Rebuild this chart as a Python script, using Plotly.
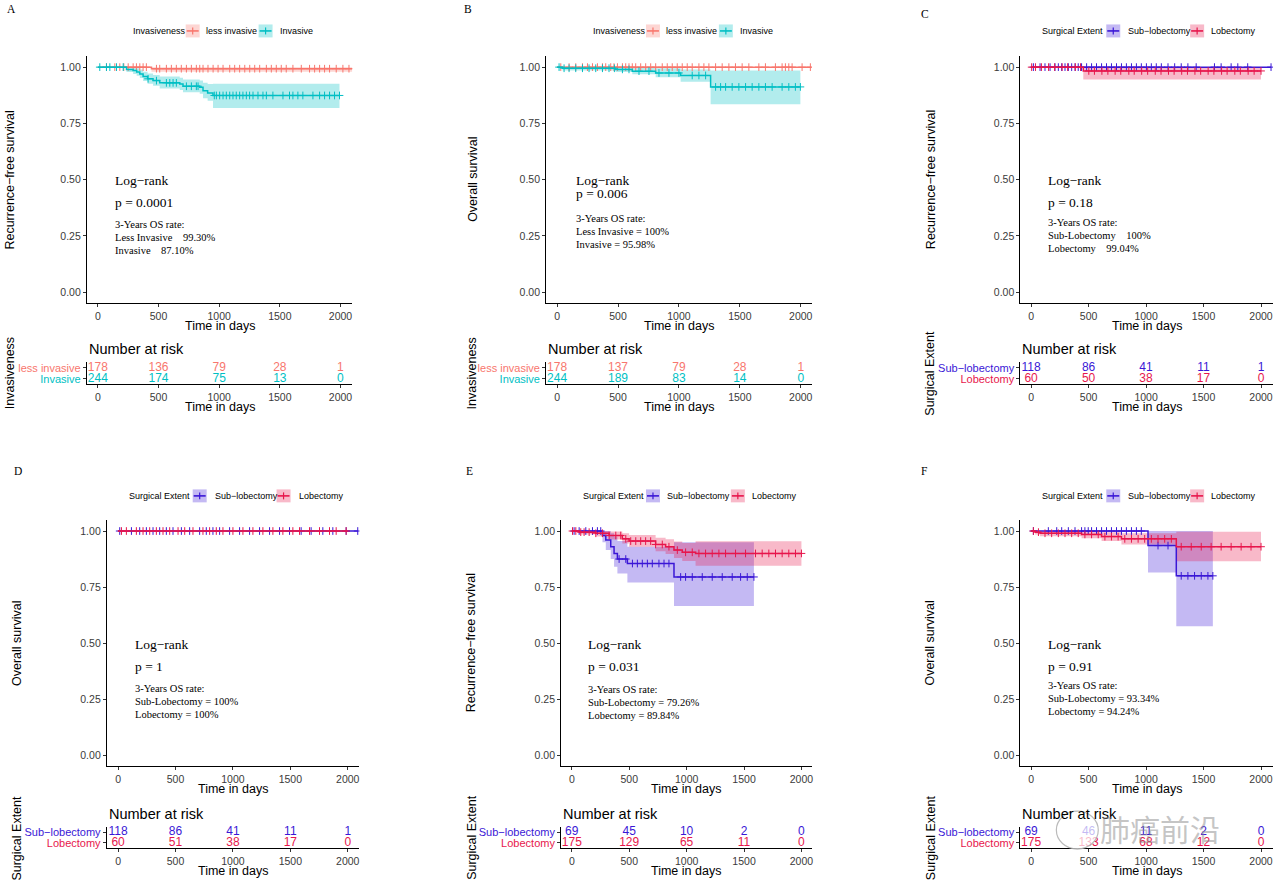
import plotly.graph_objects as go

W, H = 1280, 885

# ---------------- data ----------------
TICKS_X = [0, 500, 1000, 1500, 2000]
Y_TICKS = [0, 0.25, 0.5, 0.75, 1.0]
Y_TICK_LABELS = ["0.00", "0.25", "0.50", "0.75", "1.00"]

C_LESS = "#F8766D"
C_INV = "#00BFC4"
C_SUB = "#3A17D6"
C_LOB = "#E7164C"

# Panel A : recurrence-free survival by invasiveness
A_less_t = [0, 442, 2096]
A_less_s = [1.0, 0.993, 0.993]
A_less_lo = [1.0, 0.980, 0.980]
A_less_hi = [1.0, 1.0, 1.0]
A_less_c = [71, 140, 181, 214, 250, 291, 318, 346, 373, 400, 483, 510, 565, 606, 647, 688, 730, 771,
            812, 840, 867, 908, 950, 991, 1032, 1087, 1128, 1169, 1211, 1252, 1293, 1334, 1389, 1430,
            1471, 1512, 1553, 1608, 1677, 1745, 1787, 1828, 1869, 1910, 1965, 2020, 2070]
A_inv_t = [0, 236, 291, 320, 346, 373, 410, 455, 510, 675, 702, 840, 867, 905, 949, 1992]
A_inv_s = [1.0, 0.99, 0.985, 0.978, 0.97, 0.958, 0.948, 0.94, 0.93, 0.925, 0.915, 0.91, 0.895, 0.885, 0.874, 0.874]
A_inv_lo = [1.0, 0.978, 0.970, 0.962, 0.952, 0.938, 0.926, 0.917, 0.905, 0.898, 0.888, 0.882, 0.862, 0.850, 0.818, 0.818]
A_inv_hi = [1.0, 1.0, 1.0, 0.995, 0.99, 0.98, 0.972, 0.965, 0.958, 0.953, 0.945, 0.94, 0.93, 0.925, 0.926, 0.926]
A_inv_c = [16, 71, 99, 154, 209, 414, 483, 565, 593, 620, 647, 730, 771, 812, 826, 960, 977, 1004, 1032,
           1059, 1087, 1114, 1141, 1169, 1196, 1224, 1251, 1279, 1320, 1361, 1389, 1443, 1526, 1580, 1608,
           1649, 1690, 1773, 1828, 1869, 1910, 1951, 1992]
A_risk_less = [178, 136, 79, 28, 1]
A_risk_inv = [244, 174, 75, 13, 0]
A_text = ["Log\u2212rank", "p = 0.0001", "3-Years OS rate:",
          "Less Invasive\u00a0\u00a0\u00a0\u00a099.30%", "Invasive\u00a0\u00a0\u00a0\u00a087.10%"]

# Panel B : overall survival by invasiveness
B_less_t = [0, 2093]
B_less_s = [1.0, 1.0]
B_less_lo = [1.0, 1.0]
B_less_hi = [1.0, 1.0]
B_less_c = [30, 98, 153, 208, 249, 290, 331, 372, 399, 440, 467, 495, 536, 563, 590, 617, 645, 686, 727,
            768, 809, 863, 904, 945, 986, 1027, 1068, 1109, 1164, 1205, 1246, 1301, 1355, 1410, 1464,
            1519, 1574, 1656, 1710, 1792, 1847, 1874, 1902, 1929, 2011, 2079]
B_inv_t = [0, 44, 480, 617, 809, 1014, 1260, 1997]
B_inv_s = [1.0, 0.995, 0.99, 0.982, 0.974, 0.963, 0.912, 0.912]
B_inv_lo = [1.0, 0.985, 0.978, 0.968, 0.955, 0.935, 0.835, 0.835]
B_inv_hi = [1.0, 1.0, 1.0, 0.998, 0.995, 0.99, 0.985, 0.985]
B_inv_c = [16, 57, 98, 153, 208, 262, 317, 372, 426, 470, 536, 590, 672, 754, 836, 918, 1000, 1109, 1164,
           1219, 1301, 1342, 1383, 1437, 1492, 1547, 1601, 1656, 1710, 1765, 1847, 1902, 1956, 1997]
B_risk_less = [178, 137, 79, 28, 1]
B_risk_inv = [244, 189, 83, 14, 0]
B_text = ["Log\u2212rank", "p = 0.006", "3-Years OS rate:",
          "Less Invasive = 100%", "Invasive = 95.98%"]

# Panel C : recurrence-free survival by surgical extent
C_sub_t = [0, 2087]
C_sub_s = [1.0, 1.0]
C_sub_lo = [1.0, 1.0]
C_sub_hi = [1.0, 1.0]
C_sub_c = [20, 78, 121, 165, 208, 237, 266, 295, 324, 353, 382, 410, 439, 483, 526, 569, 613, 656, 699,
           743, 786, 829, 873, 916, 959, 1003, 1046, 1089, 1133, 1191, 1249, 1306, 1364, 1436, 1595,
           1653, 1740, 1798, 1884, 2087]
C_lob_t = [0, 454, 2000]
C_lob_s = [1.0, 0.983, 0.983]
C_lob_lo = [1.0, 0.945, 0.945]
C_lob_hi = [1.0, 1.0, 1.0]
C_lob_c = [5, 38, 90, 152, 205, 270, 318, 385, 430, 502, 551, 616, 668, 731, 780, 850, 897, 962, 1014,
           1080, 1130, 1195, 1244, 1310, 1360, 1425, 1475, 1540, 1590, 1657, 1705, 1772, 1820, 1888,
           1940, 2000]
C_risk_sub = [118, 86, 41, 11, 1]
C_risk_lob = [60, 50, 38, 17, 0]
C_text = ["Log\u2212rank", "p = 0.18", "3-Years OS rate:",
          "Sub-Lobectomy\u00a0\u00a0\u00a0\u00a0100%", "Lobectomy\u00a0\u00a0\u00a0\u00a099.04%"]

# Panel D : overall survival by surgical extent
D_sub_t = [0, 2087]
D_sub_s = [1.0, 1.0]
D_sub_lo = [1.0, 1.0]
D_sub_hi = [1.0, 1.0]
D_sub_c = [14, 116, 188, 246, 304, 362, 420, 478, 551, 623, 710, 768, 826, 884, 971, 1058, 1145, 1232,
           1319, 1406, 1493, 1594, 1681, 1783, 1870, 1986, 2087]
D_lob_t = [0, 2000]
D_lob_s = [1.0, 1.0]
D_lob_lo = [1.0, 1.0]
D_lob_hi = [1.0, 1.0]
D_lob_c = [29, 72, 159, 217, 275, 333, 391, 449, 522, 580, 652, 739, 797, 855, 913, 1000, 1087, 1174,
           1261, 1348, 1435, 1522, 1580, 1667, 1754, 1841, 1899, 1986]
D_risk_sub = [118, 86, 41, 11, 1]
D_risk_lob = [60, 51, 38, 17, 0]
D_text = ["Log\u2212rank", "p = 1", "3-Years OS rate:",
          "Sub-Lobectomy = 100%", "Lobectomy = 100%"]

# Panel E : recurrence-free survival by surgical extent (second cohort)
E_sub_t = [0, 267, 296, 339, 368, 397, 484, 890, 1586]
E_sub_s = [1.0, 0.98, 0.96, 0.93, 0.90, 0.875, 0.855, 0.795, 0.795]
E_sub_lo = [1.0, 0.95, 0.915, 0.875, 0.84, 0.81, 0.77, 0.665, 0.665]
E_sub_hi = [1.0, 1.0, 1.0, 0.99, 0.975, 0.955, 0.93, 0.95, 0.95]
E_sub_c = [20, 64, 122, 180, 223, 252, 412, 470, 528, 571, 614, 658, 701, 759, 803, 846, 948, 991, 1049,
           1136, 1223, 1310, 1397, 1470, 1528, 1586]
E_lob_t = [0, 64, 209, 325, 440, 499, 730, 817, 890, 962, 1078, 2000]
E_lob_s = [1.0, 0.995, 0.99, 0.98, 0.965, 0.955, 0.94, 0.93, 0.915, 0.905, 0.90, 0.90]
E_lob_lo = [1.0, 0.985, 0.975, 0.962, 0.944, 0.93, 0.91, 0.897, 0.88, 0.866, 0.845, 0.845]
E_lob_hi = [1.0, 1.0, 1.0, 0.998, 0.99, 0.982, 0.97, 0.963, 0.953, 0.946, 0.954, 0.954]
E_lob_c = [6, 35, 78, 107, 151, 209, 267, 325, 383, 426, 470, 513, 557, 600, 643, 687, 730, 788, 846,
           919, 991, 1049, 1107, 1165, 1223, 1281, 1339, 1426, 1513, 1600, 1658, 1716, 1774, 1832,
           1890, 1948, 2000]
E_risk_sub = [69, 45, 10, 2, 0]
E_risk_lob = [175, 129, 65, 11, 0]
E_text = ["Log\u2212rank", "p = 0.031", "3-Years OS rate:",
          "Sub-Lobectomy = 79.26%", "Lobectomy = 89.84%"]

# Panel F : overall survival by surgical extent (second cohort)
F_sub_t = [0, 1017, 1263, 1581]
F_sub_s = [1.0, 0.935, 0.80, 0.80]
F_sub_lo = [1.0, 0.815, 0.575, 0.575]
F_sub_hi = [1.0, 1.0, 1.0, 1.0]
F_sub_c = [20, 150, 223, 266, 324, 382, 439, 468, 497, 526, 569, 613, 656, 699, 743, 786, 829, 873, 916,
           959, 1104, 1191, 1306, 1364, 1422, 1480, 1538, 1581]
F_lob_t = [0, 35, 78, 439, 613, 786, 1263, 2000]
F_lob_s = [1.0, 0.995, 0.99, 0.985, 0.975, 0.965, 0.93, 0.93]
F_lob_lo = [1.0, 0.985, 0.977, 0.968, 0.955, 0.94, 0.865, 0.865]
F_lob_hi = [1.0, 1.0, 1.0, 1.0, 0.995, 0.99, 0.997, 0.997]
F_lob_c = [20, 64, 121, 179, 237, 295, 353, 410, 468, 526, 584, 642, 699, 757, 815, 873, 931, 988, 1046,
           1104, 1162, 1220, 1306, 1393, 1480, 1566, 1653, 1740, 1827, 1913, 2000]
F_risk_sub = [69, 46, 11, 2, 0]
F_risk_lob = [175, 133, 68, 12, 0]
F_text = ["Log\u2212rank", "p = 0.91", "3-Years OS rate:",
          "Sub-Lobectomy = 93.34%", "Lobectomy = 94.24%"]

INV_GROUPS = ["less invasive", "Invasive"]
SUR_GROUPS = ["Sub\u2212lobectomy", "Lobectomy"]

# ---------------- helpers ----------------
SANS = "Liberation Sans, Arial, sans-serif"
SERIF = "Liberation Serif, Times New Roman, serif"


def PX(x):
    return x / W


def PY(y):
    return 1 - y / H


def rgba(hexc, a):
    h = hexc.lstrip('#')
    return "rgba(%d,%d,%d,%s)" % (int(h[0:2], 16), int(h[2:4], 16), int(h[4:6], 16), a)


def step_val(ts, ss, t):
    v = ss[0]
    for ti, si in zip(ts, ss):
        if ti <= t:
            v = si
        else:
            break
    return v


panels = [
    dict(label="A", lab_xy=(5, 8), ytitle="Recurrence\u2212free survival", rtitle="Invasiveness",
         groups=INV_GROUPS, colors=[C_LESS, C_INV],
         curves=[(A_less_t, A_less_s, A_less_lo, A_less_hi, A_less_c), (A_inv_t, A_inv_s, A_inv_lo, A_inv_hi, A_inv_c)],
         risk=[A_risk_less, A_risk_inv], text=A_text,
         left=87, right=353, p0=98, p2000=341, top=55, bottom=303, rtop=362, rbot=384,
         ytx=10, text_x=113, text_y=[180, 202, 224, 237, 250],
         leg=(30, 131, 186, 204, 259, 278)),
    dict(label="B", lab_xy=(463, 8), ytitle="Overall survival", rtitle="Invasiveness",
         groups=INV_GROUPS, colors=[C_LESS, C_INV],
         curves=[(B_less_t, B_less_s, B_less_lo, B_less_hi, B_less_c), (B_inv_t, B_inv_s, B_inv_lo, B_inv_hi, B_inv_c)],
         risk=[B_risk_less, B_risk_inv], text=B_text,
         left=547, right=813, p0=558, p2000=802, top=55, bottom=303, rtop=362, rbot=384,
         ytx=473, text_x=575, text_y=[180, 193, 218, 231, 244],
         leg=(30, 592, 647, 665, 720, 739)),
    dict(label="C", lab_xy=(920, 13), ytitle="Recurrence\u2212free survival", rtitle="Surgical Extent",
         groups=SUR_GROUPS, colors=[C_SUB, C_LOB],
         curves=[(C_sub_t, C_sub_s, C_sub_lo, C_sub_hi, C_sub_c), (C_lob_t, C_lob_s, C_lob_lo, C_lob_hi, C_lob_c)],
         risk=[C_risk_sub, C_risk_lob], text=C_text,
         left=1022, right=1275, p0=1032.7, p2000=1263, top=55, bottom=303, rtop=362, rbot=384,
         ytx=932, text_x=1048, text_y=[180, 202, 222, 235, 248],
         leg=(30, 1042, 1108, 1128, 1192, 1211)),
    dict(label="D", lab_xy=(12, 471), ytitle="Overall survival", rtitle="Surgical Extent",
         groups=SUR_GROUPS, colors=[C_SUB, C_LOB],
         curves=[(D_sub_t, D_sub_s, D_sub_lo, D_sub_hi, D_sub_c), (D_lob_t, D_lob_s, D_lob_lo, D_lob_hi, D_lob_c)],
         risk=[D_risk_sub, D_risk_lob], text=D_text,
         left=107, right=360, p0=118.3, p2000=348.3, top=520, bottom=767, rtop=828, rbot=849,
         ytx=17, text_x=133, text_y=[645, 667, 689, 702, 715],
         leg=(496, 127, 193, 213, 277, 297)),
    dict(label="E", lab_xy=(465, 471), ytitle="Recurrence\u2212free survival", rtitle="Surgical Extent",
         groups=SUR_GROUPS, colors=[C_SUB, C_LOB],
         curves=[(E_sub_t, E_sub_s, E_sub_lo, E_sub_hi, E_sub_c), (E_lob_t, E_lob_s, E_lob_lo, E_lob_hi, E_lob_c)],
         risk=[E_risk_sub, E_risk_lob], text=E_text,
         left=562, right=813, p0=572.7, p2000=802.7, top=520, bottom=767, rtop=828, rbot=849,
         ytx=472, text_x=587, text_y=[645, 667, 690, 703, 716],
         leg=(496, 582, 647, 666, 732, 751)),
    dict(label="F", lab_xy=(920, 471), ytitle="Overall survival", rtitle="Surgical Extent",
         groups=SUR_GROUPS, colors=[C_SUB, C_LOB],
         curves=[(F_sub_t, F_sub_s, F_sub_lo, F_sub_hi, F_sub_c), (F_lob_t, F_lob_s, F_lob_lo, F_lob_hi, F_lob_c)],
         risk=[F_risk_sub, F_risk_lob], text=F_text,
         left=1022, right=1275, p0=1032.7, p2000=1263, top=520, bottom=767, rtop=828, rbot=849,
         ytx=932, text_x=1048, text_y=[645, 667, 686, 699, 712],
         leg=(496, 1042, 1108, 1128, 1192, 1211)),
]

fig = go.Figure()
annotations = []
shapes = []
layout_axes = {}

TICKFONT = dict(family=SANS, size=10.5, color="#3a3a3a")


def axname(n):
    return ("xaxis" if n == 1 else "xaxis%d" % n), ("yaxis" if n == 1 else "yaxis%d" % n)


def axref(n):
    return ("x" if n == 1 else "x%d" % n), ("y" if n == 1 else "y%d" % n)


for i, p in enumerate(panels):
    nk, nr = 2 * i + 1, 2 * i + 2
    xk, yk = axref(nk)
    xr, yr = axref(nr)
    s = (p["p2000"] - p["p0"]) / 2000.0
    xrange_ = [(p["left"] - p["p0"]) / s, (p["right"] - p["p0"]) / s]
    xdom = [PX(p["left"]), PX(p["right"])]

    common_x = dict(range=xrange_, domain=xdom, showline=True, linecolor="black", linewidth=1,
                    ticks="outside", ticklen=3, tickcolor="#333", tickvals=TICKS_X,
                    tickfont=TICKFONT, showgrid=False, zeroline=False, fixedrange=True)
    kxn, kyn = axname(nk)
    rxn, ryn = axname(nr)
    layout_axes[kxn] = dict(common_x, anchor=yk)
    layout_axes[kyn] = dict(range=[-0.05, 1.05], domain=[PY(p["bottom"]), PY(p["top"])], anchor=xk,
                            showline=True, linecolor="black", linewidth=1, ticks="outside", ticklen=3,
                            tickcolor="#333", tickvals=Y_TICKS, ticktext=Y_TICK_LABELS, tickfont=TICKFONT,
                            showgrid=False, zeroline=False, fixedrange=True)
    layout_axes[rxn] = dict(common_x, anchor=yr)
    rlabels = ["<span style='color:%s'>%s</span>" % (p["colors"][1], p["groups"][1]),
               "<span style='color:%s'>%s</span>" % (p["colors"][0], p["groups"][0])]
    layout_axes[ryn] = dict(range=[-0.5, 1.5], domain=[PY(p["rbot"]), PY(p["rtop"])], anchor=xr,
                            showline=True, linecolor="black", linewidth=1, ticks="outside", ticklen=3,
                            tickcolor="#333", tickvals=[0, 1], ticktext=rlabels,
                            tickfont=dict(family=SANS, size=11), showgrid=False, zeroline=False,
                            fixedrange=True)

    # confidence bands
    for (ts, ss, lo, hi, cs), col in zip(p["curves"], p["colors"]):
        fig.add_trace(go.Scatter(x=ts, y=lo, xaxis=xk, yaxis=yk, mode="lines", line=dict(width=0, shape="hv"),
                                 hoverinfo="skip", showlegend=False))
        fig.add_trace(go.Scatter(x=ts, y=hi, xaxis=xk, yaxis=yk, mode="lines", line=dict(width=0, shape="hv"),
                                 fill="tonexty", fillcolor=rgba(col, 0.3), hoverinfo="skip", showlegend=False))
    # curves and censor marks
    for (ts, ss, lo, hi, cs), col in zip(p["curves"], p["colors"]):
        fig.add_trace(go.Scatter(x=ts, y=ss, xaxis=xk, yaxis=yk, mode="lines",
                                 line=dict(color=col, width=1.5, shape="hv"), showlegend=False))
        fig.add_trace(go.Scatter(x=cs, y=[step_val(ts, ss, c) for c in cs], xaxis=xk, yaxis=yk, mode="markers",
                                 marker=dict(symbol="cross-thin", size=5.5, line=dict(color=col, width=1)),
                                 showlegend=False))
    # risk table numbers
    for row, (vals, col) in enumerate(zip(p["risk"], p["colors"])):
        fig.add_trace(go.Scatter(x=TICKS_X, y=[1 - row] * len(vals), xaxis=xr, yaxis=yr, mode="text",
                                 text=[str(v) for v in vals], textfont=dict(family=SANS, size=12, color=col),
                                 textposition="middle center", cliponaxis=False, showlegend=False))

    cx = (p["left"] + p["right"]) / 2.0
    # axis titles
    annotations.append(dict(x=PX(cx), y=PY(p["bottom"] + 23), xref="paper", yref="paper", text="Time in days",
                            showarrow=False, font=dict(family=SANS, size=12.5, color="black"),
                            xanchor="center", yanchor="middle"))
    annotations.append(dict(x=PX(cx), y=PY(p["rbot"] + 23), xref="paper", yref="paper", text="Time in days",
                            showarrow=False, font=dict(family=SANS, size=12.5, color="black"),
                            xanchor="center", yanchor="middle"))
    annotations.append(dict(x=PX(p["left"]), y=PY(p["rtop"] - 13), xref="paper", yref="paper",
                            text="Number at risk", showarrow=False,
                            font=dict(family=SANS, size=14.5, color="black"), xanchor="left", yanchor="middle"))
    annotations.append(dict(x=PX(p["ytx"]), y=PY((p["top"] + p["bottom"]) / 2.0), xref="paper", yref="paper",
                            text=p["ytitle"], textangle=-90, showarrow=False,
                            font=dict(family=SANS, size=12.5, color="black"), xanchor="center", yanchor="middle"))
    annotations.append(dict(x=PX(p["ytx"]), y=PY((p["rtop"] + p["rbot"]) / 2.0), xref="paper", yref="paper",
                            text=p["rtitle"], textangle=-90, showarrow=False,
                            font=dict(family=SANS, size=12.5, color="black"), xanchor="center", yanchor="middle"))
    # panel letter
    annotations.append(dict(x=PX(p["lab_xy"][0]), y=PY(p["lab_xy"][1]), xref="paper", yref="paper",
                            text=p["label"], showarrow=False, font=dict(family=SERIF, size=11.5, color="black"),
                            xanchor="left", yanchor="middle"))
    # statistics text
    for k, (t, ty) in enumerate(zip(p["text"], p["text_y"])):
        annotations.append(dict(x=PX(p["text_x"]), y=PY(ty), xref="paper", yref="paper", text=t,
                                showarrow=False, font=dict(family=SERIF, size=13.5 if k < 2 else 10.5, color="black"),
                                xanchor="left", yanchor="middle"))
    # legend
    ly, tx, k1, l1, k2, l2 = p["leg"]
    annotations.append(dict(x=PX(tx), y=PY(ly), xref="paper", yref="paper", text=p["rtitle"], showarrow=False,
                            font=dict(family=SANS, size=9, color="black"), xanchor="left", yanchor="middle"))
    for kx, lx, g, col in [(k1, l1, p["groups"][0], p["colors"][0]), (k2, l2, p["groups"][1], p["colors"][1])]:
        shapes.append(dict(type="rect", xref="paper", yref="paper", x0=PX(kx), x1=PX(kx + 14),
                           y0=PY(ly + 6.5), y1=PY(ly - 6.5), fillcolor=rgba(col, 0.3), line=dict(width=0)))
        shapes.append(dict(type="line", xref="paper", yref="paper", x0=PX(kx + 1), x1=PX(kx + 13),
                           y0=PY(ly), y1=PY(ly), line=dict(color=col, width=1.6)))
        shapes.append(dict(type="line", xref="paper", yref="paper", x0=PX(kx + 7), x1=PX(kx + 7),
                           y0=PY(ly - 3.5), y1=PY(ly + 3.5), line=dict(color=col, width=1.2)))
        annotations.append(dict(x=PX(lx), y=PY(ly), xref="paper", yref="paper", text=g, showarrow=False,
                                font=dict(family=SANS, size=9, color="black"), xanchor="left", yanchor="middle"))

# watermark (present in the source image)
shapes.append(dict(type="circle", xref="paper", yref="paper", x0=PX(1058), x1=PX(1100), y0=PY(850), y1=PY(812),
                   fillcolor="rgba(255,255,255,0.7)", line=dict(color="rgba(170,170,170,0.8)", width=1.2)))
annotations.append(dict(x=PX(1162), y=PY(829), xref="paper", yref="paper", text="肺癌前沿", showarrow=False,
                        font=dict(family="Noto Sans CJK SC", size=30, color="rgba(140,140,140,0.5)"),
                        xanchor="center", yanchor="middle"))

fig.update_layout(width=W, height=H, margin=dict(l=0, r=0, t=0, b=0), plot_bgcolor="white",
                  paper_bgcolor="white", showlegend=False, annotations=annotations, shapes=shapes,
                  **layout_axes)

fig.write_html("out.html", config={"displayModeBar": False},
               post_script="document.body.style.margin='0';document.body.style.padding='0';")
